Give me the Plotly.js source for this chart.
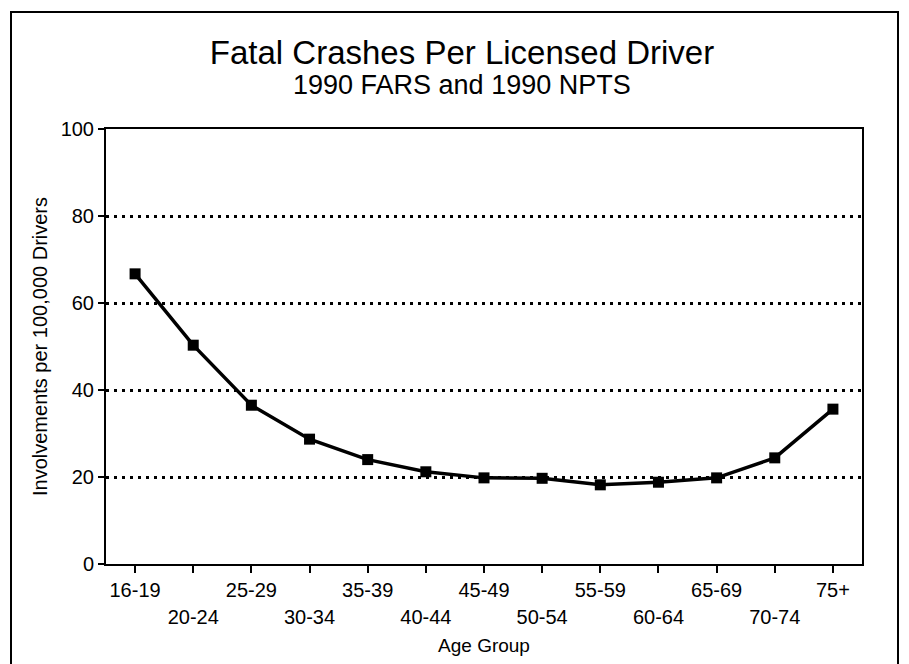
<!DOCTYPE html>
<html>
<head>
<meta charset="utf-8">
<script src="https://cdn.plot.ly/plotly-3.0.1.min.js"></script>
<style>html,body{margin:0;padding:0;background:#fff;}#chart{width:909px;height:664px;}</style>
</head>
<body>
<div id="chart"></div>
<script>
const ageGroups = ["16-19","20-24","25-29","30-34","35-39","40-44","45-49","50-54","55-59","60-64","65-69","70-74","75+"];
const involvements = [66.7, 50.3, 36.5, 28.7, 24.0, 21.2, 19.8, 19.7, 18.2, 18.8, 19.8, 24.4, 35.6];
const yTicks = [0, 20, 40, 60, 80, 100];
const titleText = "Fatal Crashes Per Licensed Driver";
const subtitleText = "1990 FARS and 1990 NPTS";

const FONT = "'Liberation Sans', Arial, sans-serif";
const idx = ageGroups.map((_, i) => i);
const oddVals = idx.filter(i => i % 2 === 1);

const L = 106, R = 47, T = 129, B = 100, W = 909, H = 664;
const pw = W - L - R, ph = H - T - B;
const px = x => (x - L) / pw;
const py = y => (H - B - y) / ph;

const trace = {
  x: idx, y: involvements, type: 'scatter', mode: 'lines+markers',
  line: {color: '#000', width: 3.5},
  marker: {symbol: 'square', size: 11, color: '#000'},
  hoverinfo: 'skip', showlegend: false
};
// invisible helper trace so the second (odd-label) axis is drawn
const helper = {
  x: oddVals, y: oddVals.map(() => null), xaxis: 'x2', yaxis: 'y',
  type: 'scatter', mode: 'lines', hoverinfo: 'skip', showlegend: false
};

const tickFont = {family: FONT, size: 20, color: '#000'};

const layout = {
  width: W, height: H,
  margin: {l: L, r: R, t: T, b: B},
  paper_bgcolor: '#fff', plot_bgcolor: '#fff',
  font: {family: FONT, color: '#000'},
  title: {
    text: titleText,
    font: {family: FONT, size: 33, color: '#000'},
    x: px(462), xref: 'paper', xanchor: 'center',
    y: 1 - 52 / H, yref: 'container', yanchor: 'middle'
  },
  annotations: [{
    text: subtitleText, showarrow: false,
    xref: 'paper', yref: 'paper', x: px(462), y: py(85),
    xanchor: 'center', yanchor: 'middle',
    font: {family: FONT, size: 27, color: '#000'}
  }],
  xaxis: {
    range: [-0.5, 12.5], tickmode: 'array', tickvals: idx,
    ticktext: idx.map(i => i % 2 === 0 ? ageGroups[i] : ''),
    ticks: 'outside', ticklen: 7, tickwidth: 2, tickcolor: '#000',
    showline: true, linewidth: 2, linecolor: '#000', mirror: true,
    showgrid: false, zeroline: false, fixedrange: true,
    tickfont: tickFont,
    title: {text: 'Age Group', font: {family: FONT, size: 19, color: '#000'}, standoff: 39}
  },
  xaxis2: {
    overlaying: 'x', anchor: 'y', side: 'bottom',
    range: [-0.5, 12.5], tickmode: 'array', tickvals: oddVals,
    ticktext: oddVals.map(i => ageGroups[i]),
    ticks: 'outside', ticklen: 7, tickwidth: 2, tickcolor: 'rgba(0,0,0,0)',
    ticklabelstandoff: 28,
    showline: false, showgrid: false, zeroline: false, fixedrange: true,
    tickfont: tickFont
  },
  yaxis: {
    range: [0, 100], tickmode: 'array', tickvals: yTicks, ticktext: yTicks.map(String),
    ticks: 'outside', ticklen: 6, tickwidth: 2, tickcolor: '#000',
    showline: true, linewidth: 2, linecolor: '#000', mirror: true,
    showgrid: true, gridcolor: '#000', gridwidth: 3, griddash: '3px,5px',
    zeroline: false, fixedrange: true,
    tickfont: tickFont,
    title: {text: 'Involvements per 100,000 Drivers', font: {family: FONT, size: 20, color: '#000'}, standoff: 8}
  },
  shapes: [{
    type: 'rect', xref: 'paper', yref: 'paper',
    x0: px(11), x1: px(898), y0: py(680), y1: py(12),
    line: {color: '#000', width: 2}, layer: 'below'
  }]
};

Plotly.newPlot('chart', [trace, helper], layout, {displayModeBar: false, staticPlot: true});
</script>
</body>
</html>
